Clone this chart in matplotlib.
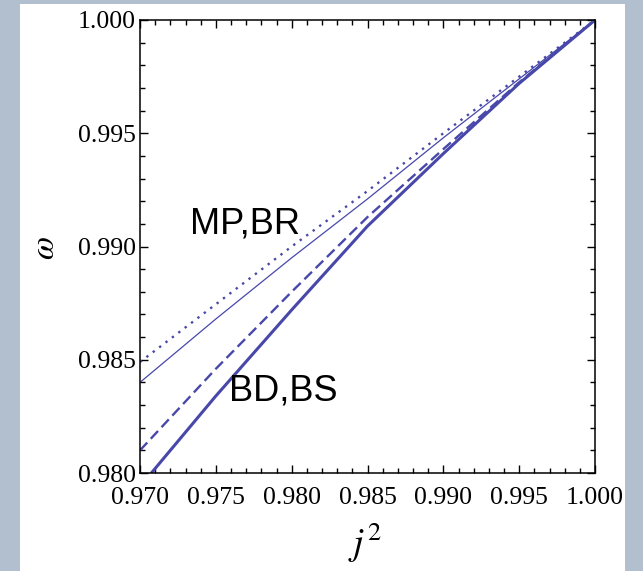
import matplotlib
matplotlib.use("Agg")
import matplotlib.pyplot as plt
from matplotlib.patches import Rectangle
from matplotlib.ticker import MultipleLocator, FormatStrFormatter

# data
j2 = [0.970, 0.975, 0.980, 0.985, 0.990, 0.995, 1.000]
omega_dotted = [0.9849, 0.98745, 0.9900, 0.99245, 0.9950, 0.9975, 1.000]
omega_thin = [0.9840, 0.9868, 0.9895, 0.9921, 0.9948, 0.9974, 1.000]
omega_dashed = [0.9810, 0.9846, 0.9880, 0.9913, 0.9943, 0.99725, 1.000]
omega_thick = [0.9794, 0.9834, 0.9872, 0.9909, 0.9941, 0.9972, 1.000]
xticks = [0.970, 0.975, 0.980, 0.985, 0.990, 0.995, 1.000]
yticks = [0.980, 0.985, 0.990, 0.995, 1.000]
label_top = "MP,BR"
label_bottom = "BD,BS"

plt.rcParams['mathtext.fontset'] = 'stix'
W, H = 643, 571
fig = plt.figure(figsize=(W / 100, H / 100), dpi=100)
fig.patch.set_facecolor('#b2bfce')
fig.patches.append(Rectangle((20 / W, 0), (625 - 20) / W, 1 - 4 / H,
                             transform=fig.transFigure, facecolor='white',
                             edgecolor='none', zorder=0))

ax = fig.add_axes([140 / W, 1 - 473 / H, (595 - 140) / W, (473 - 20) / H])
ax.set_zorder(1)
col = '#4848aa'
ax.plot(j2, omega_dotted, color=col, lw=1.7, linestyle=(0, (1, 2.4)))
ax.plot(j2, omega_thin, color=col, lw=0.9)
ax.plot(j2, omega_dashed, color=col, lw=1.7, linestyle=(0, (4.5, 2.2)))
ax.plot(j2, omega_thick, color=col, lw=2.2)

ax.set_xlim(0.970, 1.000)
ax.set_ylim(0.980, 1.000)
ax.set_xticks(xticks)
ax.set_yticks(yticks)
ax.xaxis.set_minor_locator(MultipleLocator(0.001))
ax.yaxis.set_minor_locator(MultipleLocator(0.001))
ax.xaxis.set_major_formatter(FormatStrFormatter('%.3f'))
ax.yaxis.set_major_formatter(FormatStrFormatter('%.3f'))
ax.tick_params(which='both', direction='in', top=True, right=True, width=1.0)
ax.tick_params(which='major', length=6, labelsize=18.5)
ax.tick_params(axis='x', which='major', pad=10)
ax.tick_params(axis='y', which='major', pad=3)
ax.tick_params(which='minor', length=3.5)
for lab in ax.get_xticklabels() + ax.get_yticklabels():
    lab.set_family('Liberation Serif')
for s in ax.spines.values():
    s.set_linewidth(1.1)

ax.text(0.97328, 0.99056, label_top, fontsize=26, family='Liberation Sans',
        ha='left', va='baseline')
ax.text(0.97590, 0.98320, label_bottom, fontsize=26, family='Liberation Sans',
        ha='left', va='baseline')

fig.text(44 / W, 1 - 248 / H, r'$\omega$', fontsize=24, rotation=90,
         ha='center', va='center')
fig.text(365 / W, 1 - 543 / H, r'$j^{2}$', fontsize=27,
         ha='center', va='center')

fig.savefig('out.png', dpi=100, facecolor=fig.get_facecolor())
